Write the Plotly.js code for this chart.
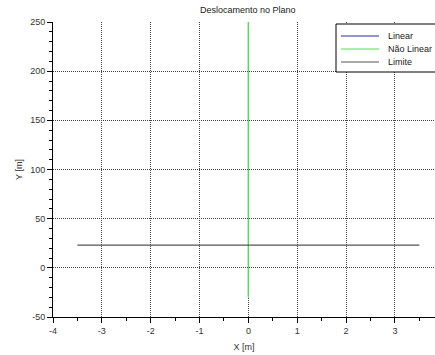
<!DOCTYPE html>
<html>
<head>
<meta charset="utf-8">
<script src="https://cdn.plot.ly/plotly-3.0.1.min.js"></script>
<style>
  html, body { margin: 0; padding: 0; background: #fff; }
  #plot { width: 435px; height: 355px; }
</style>
</head>
<body>
<div id="plot"></div>
<script>
// Trajectory in the plane: linear and non-linear solutions, plus the limit line
const linearX = [0, 0];
const linearY = [-30, 250];
const naoLinearX = [0, 0];
const naoLinearY = [-30, 250];
const limiteX = [-3.5, 3.5];
const limiteY = [23, 23];

const seriesNames = ['Linear', 'Não Linear', 'Limite'];
const seriesColors = ['#23309a', '#4ee04e', '#555555'];
const seriesWidths = [1, 1.2, 1.3];

const xTicks = [-4, -3, -2, -1, 0, 1, 2, 3];
const xTickText = ['-4', '-3', '-2', '-1', '0', '1', '2', '3'];
const yTicks = [-50, 0, 50, 100, 150, 200, 250];
const yTickText = ['-50', '0', '50', '100', '150', '200', '250'];

const font = 'Liberation Sans, Arial, sans-serif';

const traces = [
  { x: linearX, y: linearY },
  { x: naoLinearX, y: naoLinearY },
  { x: limiteX, y: limiteY }
].map((t, i) => Object.assign(t, {
  type: 'scatter',
  mode: 'lines',
  name: seriesNames[i],
  line: { color: seriesColors[i], width: seriesWidths[i] },
  hoverinfo: 'skip'
}));

const axisCommon = {
  showline: true,
  linecolor: '#000',
  linewidth: 1,
  ticks: 'outside',
  ticklen: 5,
  tickcolor: '#000',
  tickfont: { family: font, size: 9, color: '#333' },
  showgrid: true,
  gridcolor: '#444',
  gridwidth: 1,
  griddash: '1px,1px',
  zeroline: false,
  fixedrange: true
};

// Boxed legend in the upper right corner (paper coordinates of the plot area)
const plotW = 435 - 53, plotH = 355 - 22 - 38;
const px = v => (v - 53) / plotW;
const py = v => (355 - 38 - v) / plotH;
const legendRows = [36, 49, 62];

const shapes = [{
  type: 'rect', xref: 'paper', yref: 'paper',
  x0: px(336), x1: px(445), y0: py(72), y1: py(24),
  line: { color: '#000', width: 1 }, fillcolor: '#fff', layer: 'above'
}];
const annotations = [];
seriesNames.forEach((name, i) => {
  shapes.push({
    type: 'line', xref: 'paper', yref: 'paper',
    x0: px(341), x1: px(379), y0: py(legendRows[i]), y1: py(legendRows[i]),
    line: { color: seriesColors[i], width: 1 }, layer: 'above'
  });
  annotations.push({
    xref: 'paper', yref: 'paper',
    x: px(386), y: py(legendRows[i]),
    xanchor: 'left', yanchor: 'middle',
    text: name, showarrow: false,
    font: { family: font, size: 9, color: '#222' }
  });
});

const layout = {
  width: 435,
  height: 355,
  margin: { l: 53, r: 0, t: 22, b: 38 },
  paper_bgcolor: '#fff',
  plot_bgcolor: '#fff',
  showlegend: false,
  title: {
    text: 'Deslocamento no Plano',
    font: { family: font, size: 9, color: '#222' },
    x: 0.51, xref: 'paper', xanchor: 'center',
    y: 0.98, yref: 'container', yanchor: 'top'
  },
  xaxis: Object.assign({}, axisCommon, {
    range: [-4, 3.82],
    tickmode: 'array', tickvals: xTicks, ticktext: xTickText,
    minor: { dtick: 0.5, tick0: -4, ticks: 'outside', ticklen: 3, tickcolor: '#000', showgrid: false },
    title: { text: 'X [m]', font: { family: font, size: 9, color: '#333' }, standoff: 8 }
  }),
  yaxis: Object.assign({}, axisCommon, {
    range: [-50, 250],
    tickmode: 'array', tickvals: yTicks, ticktext: yTickText,
    minor: { dtick: 10, tick0: -50, ticks: 'outside', ticklen: 3, tickcolor: '#000', showgrid: false },
    title: { text: 'Y [m]', font: { family: font, size: 9, color: '#333' }, standoff: 6 }
  }),
  shapes: shapes,
  annotations: annotations
};

Plotly.newPlot('plot', traces, layout, { displayModeBar: false, staticPlot: true });
</script>
</body>
</html>
